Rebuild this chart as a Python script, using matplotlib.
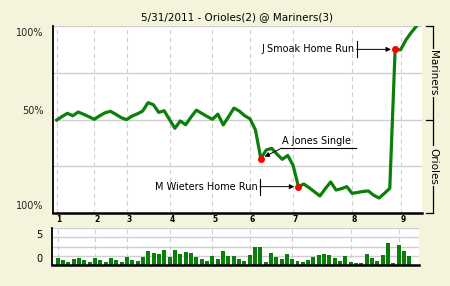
import numpy as np
import matplotlib.pyplot as plt

# Mariners win probability (%) after each event
win_prob = [49.7, 51.6, 53.3, 52.0, 54.0, 52.8, 51.5, 50.1, 52.0, 53.6,
            54.4, 52.8, 51.0, 49.9, 51.8, 53.0, 54.5, 59.0, 57.9, 53.8,
            54.7, 50.0, 45.3, 49.2, 47.2, 51.3, 55.0, 53.3, 51.6, 50.1,
            52.9, 47.1, 51.5, 56.1, 54.5, 52.0, 50.3, 44.4, 29.1, 33.7,
            34.6, 31.5, 28.7, 30.8, 25.5, 14.1, 15.5, 13.5, 11.3, 9.1,
            13.0, 16.6, 12.3, 13.0, 14.1, 10.5, 11.0, 11.5, 11.8, 9.5,
            8.0, 10.5, 13.2, 87.5, 87.2, 92.5, 96.5, 100.0]

# leverage bars, one per event
leverage = [-0.6, -1.15, -1.7, -0.9, -0.6, -1.15, -1.7, -0.6, -1.15, -1.7,
            -0.6, -1.15, -1.7, -0.3, -1.15, -1.4, -0.3, 1.3, 0.75, 0.5,
            1.55, -0.3, 1.55, 0.5, 1.0, 0.75, -0.3, -0.9, -1.4, -0.05,
            -0.9, 1.3, -0.05, -0.05, -0.9, -1.4, 0.2, 2.4, 2.4, -1.7,
            0.75, -0.3, -0.9, 0.5, -0.9, -1.4, -1.7, -1.15, -0.3, 0.2,
            0.5, 0.2, -0.6, -1.4, -0.05, -1.7, -1.95, -1.95, 0.5, -0.6,
            -1.4, 0.2, 3.45, -1.95, 2.9, 1.3, -0.05]

inning_start = [0, 7, 13, 21, 29, 36, 44, 55, 64]
inning_labels = ['1', '2', '3', '4', '5', '6', '7', '8', '9']

key_plays = [(63, 'J Smoak Home Run'), (38, 'A Jones Single'), (45, 'M Wieters Home Run')]

bg = '#f4f4dc'
green = '#0a800a'
grid = '#cfcfcf'

fig = plt.figure(figsize=(4.5, 2.86), dpi=100, facecolor=bg)
ax = fig.add_axes([52.5 / 450, 73 / 286, 369.5 / 450, 187 / 286])
bx = fig.add_axes([52 / 450, 21 / 286, 367 / 450, 37 / 286])

x = np.arange(len(win_prob))

# ---- main win probability chart
for i in inning_start:
    ax.axvline(i, color=grid, lw=0.8, ls=(0, (4, 3)), zorder=0)
for yv in [25, 50, 75]:
    ax.axhline(yv, color=grid, lw=1, zorder=0)
ax.plot(x, win_prob, color=green, lw=2.3, solid_joinstyle='round', zorder=3)
ax.set_xlim(-0.78, 68.0)
ax.set_ylim(0, 100)
ax.set_xticks([])
ax.set_yticks([])
for s in ['top', 'right']:
    ax.spines[s].set_visible(False)
ax.axhline(100, color=grid, lw=1, zorder=0)
ax.spines['left'].set_linewidth(1.3)
ax.spines['bottom'].set_linewidth(1.8)

for t, yv in [('100%', 0.965), ('50%', 0.545), ('100%', 0.04)]:
    ax.text(-0.025, yv, t, transform=ax.transAxes, ha='right', va='center',
            fontsize=7, color='#222222')

for i, lab in zip(inning_start, inning_labels):
    ax.text(i + 0.45, -0.035, lab, transform=ax.get_xaxis_transform(),
            ha='center', va='center', fontsize=5.5, fontweight='bold')

ax.set_title('5/31/2011 - Orioles(2) @ Mariners(3)', fontsize=7.5, pad=4.5)

# key plays
px = 0.72
for idx, label in key_plays:
    yv = win_prob[idx]
    ax.plot(idx, yv, 'o', color='red', ms=4, zorder=4)
    if label == 'A Jones Single':
        ax.annotate('', xy=(idx, yv), xytext=(21 * px, 10.5 * px),
                    textcoords='offset points',
                    arrowprops=dict(arrowstyle='-|>', color='black', lw=0.7,
                                    shrinkA=0, shrinkB=3, mutation_scale=7))
        ax.annotate(label, xy=(idx, yv), xytext=(21 * px, 17.5 * px),
                    textcoords='offset points', ha='left', va='center',
                    fontsize=7)
        ax.plot([idx + 20 / 5.37, idx + 95 / 5.37], [yv + 10.3 / 1.87] * 2,
                color='black', lw=0.8, clip_on=False)
    else:
        ax.annotate('', xy=(idx, yv), xytext=(-38.5 * px, 0),
                    textcoords='offset points',
                    arrowprops=dict(arrowstyle='-|>', color='black', lw=0.7,
                                    shrinkA=0, shrinkB=3, mutation_scale=7))
        ax.plot([idx - 38.5 / 5.37] * 2, [yv - 8 / 1.87, yv + 8 / 1.87],
                color='black', lw=0.8)
        ax.annotate(label, xy=(idx, yv), xytext=(-41 * px, 0),
                    textcoords='offset points', ha='right', va='center',
                    fontsize=7)

# team bracket on the right
bxpos = (433 - 52.5) / 369.5
tick0 = (426 - 52.5) / 369.5
ax.plot([bxpos, bxpos], [0, 1], transform=ax.transAxes, color='black',
        lw=0.9, clip_on=False)
for yv in [0, 0.5, 1]:
    ax.plot([tick0, bxpos], [yv, yv], transform=ax.transAxes, color='black',
            lw=0.9, clip_on=False)
for t, yv in [('Mariners', 0.75), ('Orioles', 0.25)]:
    ax.text(bxpos, yv, t, transform=ax.transAxes, rotation=270, ha='center',
            va='center', fontsize=7.5,
            bbox=dict(facecolor=bg, edgecolor='none', pad=1))

# ---- leverage bars
bx.set_facecolor('white')
for i in inning_start:
    bx.axvline(i, color=grid, lw=0.8, ls=(0, (4, 3)), zorder=0)
for yv in [0, 2.5, 5, 7.5]:
    bx.axhline(yv, color=grid, lw=1, zorder=0)
bx.bar(np.arange(len(leverage)), np.array(leverage) + 2.5, bottom=-2.5,
       width=0.75, color='#087f08', zorder=2)
bx.set_xlim(-1.07, 67.8)
bx.set_ylim(-2.5, 7.5)
bx.set_xticks([])
bx.set_yticks([])
for s in ['top', 'right']:
    bx.spines[s].set_visible(False)
bx.spines['left'].set_linewidth(1.3)
bx.spines['bottom'].set_linewidth(1.8)
bx.text(-0.027, 5.5, '5', transform=bx.get_yaxis_transform(), ha='right',
        va='center', fontsize=7)
bx.text(-0.027, -0.8, '0', transform=bx.get_yaxis_transform(), ha='right',
        va='center', fontsize=7)

ax.set_facecolor('white')
fig.savefig('out.png', dpi=100, facecolor=bg)
